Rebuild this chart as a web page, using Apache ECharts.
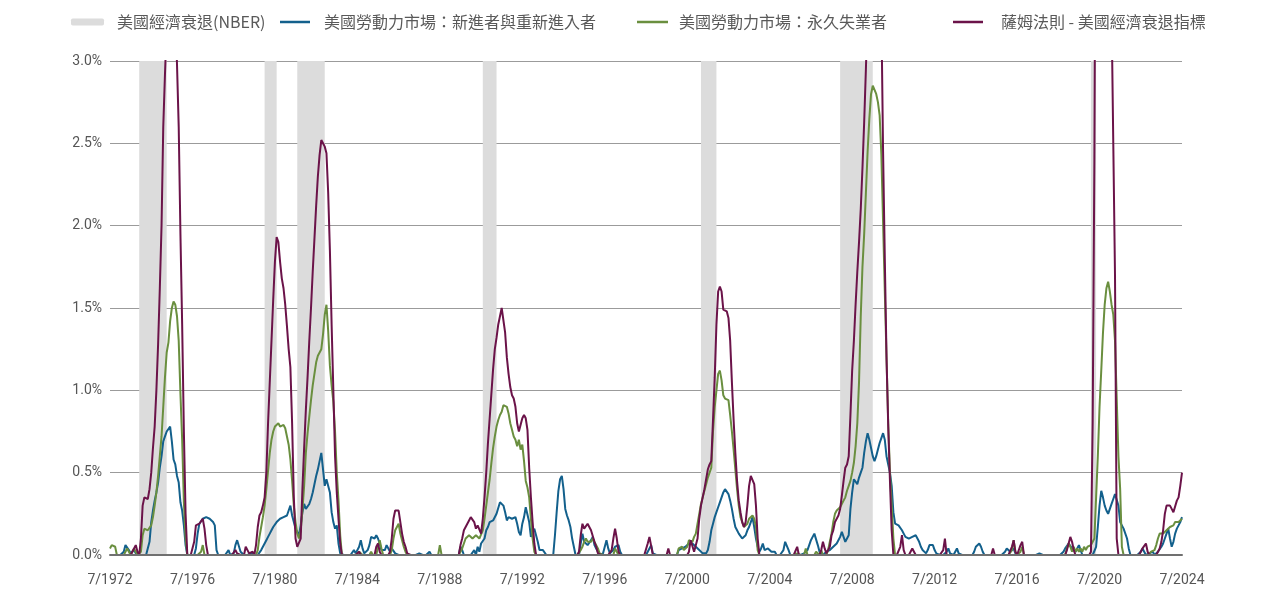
<!DOCTYPE html>
<html>
<head>
<meta charset="utf-8">
<script src="https://cdn.jsdelivr.net/npm/echarts@6/dist/echarts.min.js"></script>
<style>html,body{margin:0;padding:0;background:#fff}#c{width:1280px;height:601px}</style>
</head>
<body>
<div id="c"></div>
<script>
const startYear = 1972, startMonth = 7;
const recessionName = '美國經濟衰退(NBER)';
const entrantsName = '美國勞動力市場：新進者與重新進入者';
const permanentName = '美國勞動力市場：永久失業者';
const sahmName = '薩姆法則 - 美國經濟衰退指標';
const recessions = [['1973-12','1975-04'],['1980-01','1980-08'],['1981-08','1982-12'],['1990-08','1991-04'],['2001-03','2001-12'],['2007-12','2009-07'],['2020-02','2020-05']];
const yTicks = [0, 0.5, 1.0, 1.5, 2.0, 2.5, 3.0];

// monthly values, each row = 12 months starting July
const entrants = [
0,0,0,0,0,0,0,0,0.02,0.06,0.07,0.03,
0.01,0.02,0.03,0.01,0,0,0,0,0,0,0,0.08,
0.2,0.27,0.33,0.38,0.44,0.53,0.6,0.69,0.72,0.75,0.76,0.78,
0.69,0.58,0.55,0.48,0.44,0.32,0.27,0.18,0.06,0,0,0,
0,0,0.04,0.13,0.19,0.2,0.22,0.22,0.23,0.22,0.22,0.21,
0.2,0.18,0.03,0,0,0,0,0,0,0.03,0,0,
0.01,0.06,0.09,0.1,0.02,0.01,0,0,0,0,0.01,0,
0,0,0,0.01,0.03,0.05,0.07,0.09,0.11,0.13,0.15,0.17,
0.18,0.2,0.21,0.22,0.22,0.23,0.23,0.24,0.27,0.3,0.24,0.2,
0.16,0.14,0.12,0.18,0.26,0.31,0.28,0.28,0.31,0.34,0.38,0.43,
0.48,0.52,0.57,0.62,0.52,0.42,0.46,0.45,0.38,0.26,0.2,0.16,
0.18,0.07,0.01,0,0,0,0,0,0,0.01,0.03,0.01,
0.02,0.05,0.09,0.04,0.01,0.02,0.03,0.06,0.11,0.12,0.1,0.12,
0.1,0.07,0.03,0.02,0.03,0.06,0.06,0.02,0.04,0.05,0.01,0,
0,0,0,0,0,0,0,0,0,0,0,0,
0.01,0,0,0,0,0,0.02,0,0,0,0,0,
0,0,0,0,0,0,0,0,0,0,0,0,
0.05,0.03,0,0,0,0,0,0,0.03,0,0.05,0.02,
0.07,0.06,0.1,0.15,0.17,0.2,0.21,0.21,0.22,0.25,0.26,0.32,
0.33,0.3,0.26,0.21,0.23,0.22,0.22,0.21,0.23,0.19,0.14,0.12,
0.19,0.23,0.29,0.28,0.2,0.11,0.12,0.16,0.17,0.08,0.03,0.02,
0.03,0.02,0,0,0,0,0,0.12,0.26,0.39,0.46,0.48,
0.4,0.28,0.24,0.21,0.17,0.1,0.05,0,0,0,0.07,0.13,
0.08,0.07,0.06,0.05,0.09,0.11,0.06,0.04,0.02,0,0,0.01,
0.05,0.09,0.04,0.01,0.02,0.03,0.05,0.05,0.06,0.02,0,0,
0,0,0,0,0,0.01,0,0,0,0,0,0,
0,0.02,0.04,0.06,0.01,0,0,0,0,0,0,0,
0,0,0,0,0,0.01,0,0.03,0.02,0.04,0.04,0.05,
0.06,0.07,0.08,0.07,0.06,0.05,0.04,0.03,0.02,0.01,0.01,0.01,
0.03,0.08,0.15,0.19,0.23,0.26,0.29,0.32,0.35,0.38,0.4,0.41,
0.37,0.33,0.28,0.22,0.17,0.15,0.13,0.12,0.1,0.09,0.12,0.15,
0.17,0.2,0.23,0.17,0.1,0.05,0.02,0.04,0.07,0.03,0.02,0.04,
0.05,0.02,0.01,0.02,0,0,0,0,0.03,0.08,0.07,0.03,
0,0,0,0,0,0,0,0,0.01,0,0.03,0.06,
0.09,0.11,0.13,0.12,0.06,0.02,0.01,0,0.01,0.02,0.02,0.03,
0.04,0.05,0.06,0.07,0.09,0.11,0.14,0.13,0.08,0.07,0.12,0.28,
0.38,0.46,0.45,0.43,0.47,0.5,0.53,0.62,0.69,0.74,0.7,0.65,
0.6,0.57,0.6,0.64,0.68,0.71,0.74,0.7,0.6,0.55,0.5,0.42,
0.26,0.19,0.18,0.18,0.17,0.15,0.13,0.11,0.1,0.1,0.09,0.11,
0.12,0.12,0.11,0.08,0.05,0.03,0.02,0.01,0.03,0.06,0.07,0.06,
0.03,0.01,0,0,0,0,0,0.02,0.04,0.01,0,0,
0.02,0.04,0.01,0,0,0,0,0,0,0,0,0.02,
0.05,0.06,0.07,0.05,0.02,0,0,0,0,0,0,0,
0,0,0,0,0,0.02,0.04,0.03,0.02,0.03,0.04,0.01,
0,0,0,0,0,0,0,0,0,0,0,0,
0,0.01,0.02,0,0,0,0,0,0,0,0,0,
0,0,0,0.02,0.04,0.05,0.07,0.06,0.04,0.03,0.02,0.04,
0.06,0.03,0,0,0,0,0,0,0,0,0.05,0.17,
0.3,0.39,0.35,0.3,0.27,0.25,0.28,0.31,0.34,0.37,0.38,0.3,
0.2,0.18,0.16,0.15,0.1,0.04,0,0,0,0,0,0,
0.02,0.04,0.02,0,0,0.01,0,0.02,0,0.01,0.02,0.03,
0.05,0.07,0.1,0.13,0.16,0.1,0.05,0.08,0.13,0.16,0.18,0.2,
0.23];

const permanent = [
0.04,0.06,0.07,0.05,0,0,0,0,0,0.02,0.04,0.02,
0,0.02,0.04,0.02,0,0,0.02,0.12,0.16,0.15,0.15,0.16,
0.18,0.23,0.3,0.38,0.48,0.6,0.72,0.9,1.08,1.23,1.29,1.42,
1.5,1.54,1.52,1.45,1.3,0.98,0.7,0.32,0.1,0,0,0,
0,0,0,0,0,0.02,0.06,0,0,0,0,0,
0,0,0,0,0,0,0,0,0,0,0,0,
0,0,0,0,0,0,0,0,0,0,0,0,
0,0,0.03,0.11,0.17,0.23,0.3,0.4,0.51,0.62,0.7,0.75,
0.78,0.79,0.8,0.78,0.77,0.79,0.77,0.72,0.67,0.58,0.45,0.3,
0.2,0.13,0.1,0.15,0.27,0.42,0.62,0.74,0.84,0.94,1.03,1.1,
1.17,1.21,1.22,1.25,1.34,1.46,1.52,1.36,1.15,1.03,0.93,0.75,
0.5,0.33,0.12,0,0,0,0,0,0,0,0,0,
0,0.02,0.01,0,0,0,0,0,0.02,0,0,0,
0.05,0.09,0.04,0,0,0,0,0,0.03,0.1,0.15,0.17,
0.19,0.13,0.09,0.05,0.02,0,0,0,0,0,0,0,
0,0,0,0,0,0,0,0,0,0,0,0,
0.06,0,0,0,0,0,0,0,0,0,0,0,
0,0.04,0.07,0.1,0.1,0.12,0.12,0.1,0.11,0.12,0.11,0.1,
0.1,0.15,0.22,0.3,0.38,0.46,0.56,0.65,0.72,0.78,0.82,0.85,
0.87,0.91,0.9,0.9,0.86,0.8,0.76,0.72,0.7,0.66,0.7,0.64,
0.67,0.57,0.45,0.41,0.35,0.22,0.1,0.02,0,0,0,0,
0,0,0,0,0,0,0,0,0,0,0,0,
0,0,0,0,0,0,0,0,0,0,0.03,0.05,
0.08,0.1,0.08,0.07,0.08,0.1,0.09,0.06,0.04,0.01,0,0,
0,0,0,0,0,0,0.04,0.03,0,0,0,0,
0,0,0,0,0,0,0,0,0,0,0,0,
0,0,0,0,0,0,0,0,0,0,0,0,
0,0,0,0,0,0,0,0.04,0.03,0.05,0.03,0.02,
0.05,0.09,0.09,0.08,0.11,0.13,0.19,0.25,0.31,0.35,0.39,0.43,
0.47,0.5,0.53,0.75,0.9,1.0,1.1,1.12,1.06,0.97,0.95,0.95,
0.94,0.85,0.75,0.64,0.52,0.4,0.3,0.23,0.2,0.17,0.18,0.19,
0.22,0.23,0.24,0.22,0.17,0.03,0,0,0,0,0,0,
0,0,0,0,0,0,0,0,0,0,0,0,
0,0,0,0,0.01,0,0,0,0,0.04,0,0,
0,0,0,0.02,0.03,0,0.03,0,0.01,0,0.03,0.08,
0.13,0.2,0.25,0.27,0.28,0.29,0.3,0.33,0.35,0.39,0.42,0.45,
0.5,0.56,0.66,0.8,1.05,1.45,1.75,1.95,2.2,2.45,2.65,2.8,
2.85,2.84,2.8,2.75,2.67,2.43,2.02,1.6,1.2,0.8,0.5,0.3,
0.1,0,0,0,0,0,0,0,0,0,0,0,
0,0,0,0,0,0,0,0,0,0,0,0,
0,0,0,0,0,0,0,0,0,0,0,0,
0,0,0,0,0,0,0,0,0,0,0,0,
0,0,0,0,0,0,0,0,0,0,0,0,
0,0,0,0,0,0,0,0,0,0.03,0.09,0.02,
0,0,0.02,0.05,0,0,0,0,0,0,0,0,
0,0,0,0,0,0,0,0,0,0,0,0,
0,0,0,0,0,0.04,0.07,0.05,0.02,0.05,0.02,0.04,
0.02,0.04,0.02,0.05,0.03,0.05,0.04,0.06,0.07,0.1,0.35,0.6,
0.9,1.12,1.35,1.52,1.62,1.66,1.6,1.52,1.46,1.3,0.95,0.6,
0.4,0.05,0,0,0,0,0,0,0,0,0,0,
0,0,0,0,0,0.01,0.02,0.01,0.03,0.06,0.1,0.13,
0.14,0.13,0.14,0.15,0.16,0.17,0.18,0.18,0.2,0.19,0.2,0.21,
0.22];

const sahm = [
0,0,0,0,0,0,0,0,0,0,0,0,
0,0,0.04,0.06,0.02,0,0.1,0.3,0.35,0.35,0.34,0.4,
0.5,0.65,0.78,1.0,1.28,1.62,2.0,2.6,2.92,3.2,3.5,3.7,
3.8,3.6,3.3,2.98,2.6,1.95,1.4,0.75,0.25,0,0,0,
0,0.08,0.18,0.19,0.19,0.2,0.22,0.16,0.06,0,0,0,
0,0,0,0,0,0,0,0,0,0,0,0,
0,0.03,0.01,0,0,0,0,0.05,0.06,0.01,0,0.02,
0,0.06,0.17,0.24,0.26,0.3,0.35,0.5,0.8,1.05,1.3,1.55,
1.78,1.93,1.9,1.78,1.68,1.62,1.52,1.39,1.25,1.14,0.8,0.35,
0.1,0.05,0.04,0.1,0.4,0.65,0.88,1.08,1.3,1.5,1.72,1.92,
2.12,2.3,2.43,2.52,2.5,2.48,2.44,2.2,1.85,1.4,1.0,0.6,
0.38,0.22,0.07,0,0,0,0,0,0,0,0,0,
0,0.02,0,0,0,0,0,0,0,0,0,0.05,
0.07,0.02,0,0,0,0,0,0.02,0.1,0.22,0.27,0.27,
0.27,0.2,0.13,0.08,0.05,0.01,0,0,0,0,0,0,
0,0,0,0,0,0,0,0,0,0,0,0,
0,0,0,0,0,0,0,0,0,0,0,0,
0.06,0.1,0.15,0.17,0.19,0.21,0.23,0.23,0.2,0.16,0.18,0.19,
0.13,0.22,0.35,0.5,0.68,0.83,0.98,1.13,1.25,1.32,1.4,1.45,
1.5,1.49,1.35,1.2,1.1,1.02,0.97,0.95,0.9,0.8,0.75,0.76,
0.83,0.85,0.83,0.76,0.53,0.35,0.2,0.07,0,0,0,0,
0,0,0,0,0,0,0,0,0,0,0,0,
0,0,0,0,0,0,0,0,0,0.02,0.12,0.19,
0.16,0.17,0.19,0.17,0.15,0.14,0.08,0.05,0.01,0,0,0,
0,0,0,0,0.03,0.1,0.16,0.1,0.02,0,0,0,
0,0,0,0,0,0,0,0,0,0,0,0,
0,0.07,0.11,0.1,0,0,0,0,0,0,0,0,
0,0.04,0,0,0,0,0,0,0,0,0,0,
0,0.02,0.09,0.08,0.02,0.02,0.1,0.22,0.3,0.35,0.4,0.46,
0.52,0.55,0.57,0.82,1.08,1.4,1.6,1.63,1.6,1.49,1.5,1.48,
1.44,1.3,1.05,0.82,0.62,0.45,0.33,0.26,0.2,0.17,0.2,0.3,
0.42,0.48,0.47,0.43,0.3,0.1,0,0,0,0,0,0,
0,0,0,0,0,0,0,0,0,0,0,0,
0,0,0,0,0.05,0,0,0,0,0,0,0,
0,0,0,0,0,0,0.03,0.08,0.04,0.01,0,0.05,
0.12,0.15,0.2,0.22,0.24,0.28,0.36,0.45,0.53,0.55,0.6,0.85,
1.12,1.3,1.52,1.72,1.9,2.1,2.35,2.63,2.95,3.3,3.6,3.9,
4.1,4.2,4.1,3.9,3.6,3.3,2.45,1.8,1.2,0.78,0.45,0.15,
0,0,0,0,0.05,0.12,0.03,0,0,0,0,0.04,
0.05,0,0,0,0,0,0,0,0,0,0,0,
0,0,0,0,0,0.03,0.1,0,0,0,0,0,
0,0,0,0,0,0,0,0,0,0,0,0,
0,0,0,0,0,0,0,0,0,0,0.04,0,
0,0,0,0,0,0,0,0,0,0.05,0.09,0.02,
0,0,0.06,0.08,0,0,0,0,0,0,0,0,
0,0,0,0,0,0,0,0,0,0,0,0,
0,0,0,0,0,0.03,0.07,0.11,0.08,0.03,0,0,
0,0,0,0,0,0,0,0.02,0.8,2.4,5.0,7.0,
8.5,9.0,9.0,8.5,7.5,6.5,5.0,3.3,2.5,1.7,0.1,0,
0,0,0,0,0,0,0,0,0,0,0,0,
0.01,0.04,0.05,0.07,0.02,0,0,0,0,0,0.02,0.04,
0.08,0.15,0.25,0.3,0.31,0.3,0.28,0.26,0.27,0.33,0.35,0.42,
0.5];

const months = [];
for (let i = 0; i < sahm.length; i++) {
  const t = (startMonth - 1) + i;
  const y = startYear + Math.floor(t / 12);
  const m = (t % 12) + 1;
  months.push(y + '-' + String(m).padStart(2, '0'));
}

const colors = { recession: '#dcdcdc', entrants: '#13608c', permanent: '#6a8f3f', sahm: '#6b1349' };
const legendFont = '"Noto Sans CJK TC", "Noto Sans", sans-serif';
const legendText = (pad) => ({ color: '#595959', fontSize: 16, fontFamily: legendFont, padding: [0, 0, 0, pad] });

const chart = echarts.init(document.getElementById('c'), null, { renderer: 'canvas' });
chart.setOption({
  animation: false,
  backgroundColor: '#ffffff',
  grid: { left: 110, right: 98, top: 61, bottom: 46 },
  legend: [
    { left: 71, top: 14, padding: 0, data: [recessionName], icon: 'roundRect', itemWidth: 33, itemHeight: 7, textStyle: legendText(8) },
    { left: 280, top: 14, padding: 0, data: [entrantsName], icon: 'rect', itemWidth: 30, itemHeight: 2.5, textStyle: legendText(9) },
    { left: 637, top: 14, padding: 0, data: [permanentName], icon: 'rect', itemWidth: 31, itemHeight: 2.5, textStyle: legendText(6) },
    { left: 953, top: 14, padding: 0, data: [sahmName], icon: 'rect', itemWidth: 30, itemHeight: 2.5, textStyle: legendText(13) }
  ],
  xAxis: {
    type: 'category',
    data: months,
    boundaryGap: false,
    z: 4,
    axisTick: { show: false },
    axisLine: { lineStyle: { color: '#707070', width: 2 } },
    axisLabel: {
      interval: 47,
      color: '#555555',
      fontSize: 14,
      fontFamily: 'Roboto, "Noto Sans", sans-serif',
      margin: 18,
      formatter: (v) => { const p = v.split('-'); return (+p[1]) + '/' + p[0]; }
    },
    splitLine: { show: false }
  },
  yAxis: {
    type: 'value',
    min: yTicks[0],
    max: yTicks[yTicks.length - 1],
    interval: 0.5,
    axisLine: { show: false },
    axisTick: { show: false },
    axisLabel: { color: '#555555', fontSize: 14, fontFamily: 'Roboto, "Noto Sans", sans-serif', margin: 8, formatter: (v) => v.toFixed(1) + '%' },
    splitLine: { lineStyle: { color: '#9b9b9b', width: 1 } }
  },
  series: [
    {
      name: recessionName, type: 'line', data: [], z: 1, silent: true,
      itemStyle: { color: colors.recession }, lineStyle: { color: colors.recession, width: 7 },
      markArea: { silent: true, itemStyle: { color: colors.recession, opacity: 1 },
        data: recessions.map(r => [{ xAxis: r[0] }, { xAxis: r[1] }]) }
    },
    { name: entrantsName, type: 'line', data: entrants, symbol: 'none', z: 3,
      itemStyle: { color: colors.entrants }, lineStyle: { color: colors.entrants, width: 2 } },
    { name: permanentName, type: 'line', data: permanent, symbol: 'none', z: 3,
      itemStyle: { color: colors.permanent }, lineStyle: { color: colors.permanent, width: 2 } },
    { name: sahmName, type: 'line', data: sahm, symbol: 'none', z: 3,
      itemStyle: { color: colors.sahm }, lineStyle: { color: colors.sahm, width: 2 } }
  ]
});
</script>
</body>
</html>
